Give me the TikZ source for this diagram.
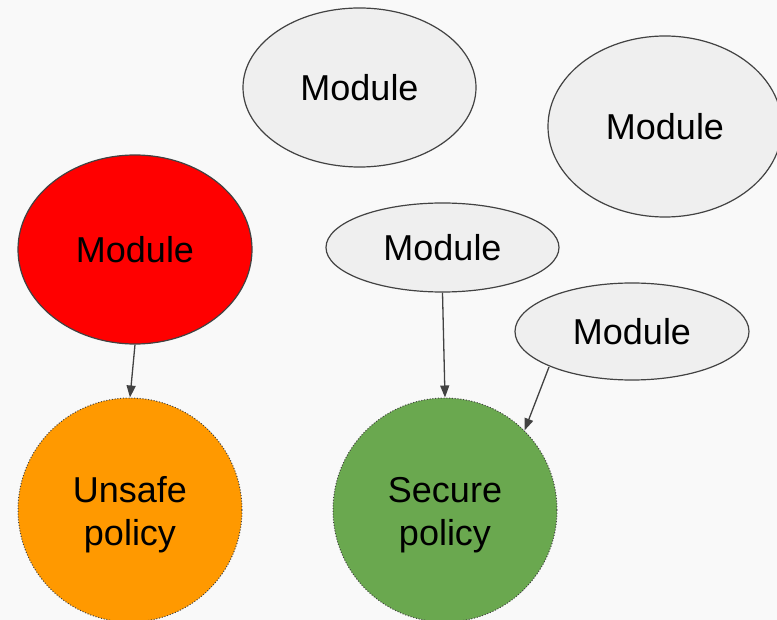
\documentclass[tikz,border=0pt]{standalone}
\usepackage{fontspec}
\setmainfont{Liberation Sans}
\usetikzlibrary{shapes.geometric,arrows.meta}
\definecolor{bg}{HTML}{F9F9F9}
\definecolor{modfill}{HTML}{EFEFEF}
\definecolor{edge}{HTML}{424242}
\definecolor{unsafe}{HTML}{FF9900}
\definecolor{secure}{HTML}{6AA84F}
\tikzset{
  modbox/.style={ellipse, draw=edge, line width=1.2pt, fill=modfill, inner sep=0pt,
    font=\fontsize{36}{41}\selectfont},
  polbox/.style={circle, draw=edge, line width=1pt, dash pattern=on 1pt off 1.8pt,
    inner sep=0pt, minimum size=224pt},
  poltext/.style={align=center, inner sep=0pt, font=\fontsize{36}{43}\selectfont},
  conn/.style={draw=edge, line width=1.3pt, -{Triangle[length=12pt,width=9pt]}}
}
\begin{document}
\begin{tikzpicture}[x=1pt,y=-1pt]
\useasboundingbox (0,0) rectangle (777,620);
\clip (0,0) rectangle (777,620);
\fill[bg] (0,0) rectangle (777,620);
\node[modbox, minimum width=233pt, minimum height=159pt] (m1) at (359.5,87.5) {Module};
\node[modbox, minimum width=234pt, minimum height=181pt] (m2) at (665,126.5) {Module};
\node[modbox, fill=red, minimum width=234pt, minimum height=189pt] (m3) at (135,249.5) {Module};
\node[modbox, minimum width=233pt, minimum height=89pt] (m4) at (442.5,247.5) {Module};
\node[modbox, minimum width=234pt, minimum height=97pt] (m5) at (632,331.5) {Module};
\node[polbox, fill=unsafe] (p1) at (130,510) {};
\node[polbox, fill=secure] (p2) at (445,510) {};
\node[poltext] (t1) at (130,515) {Unsafe\\policy};
\node[poltext] (t2) at (445,515) {Secure\\policy};
\coordinate (a3) at (549,367);
\draw[conn] (m3.south) -- (p1.north);
\draw[conn] (m4.south) -- (p2.north);
\draw[conn] (a3) -- (p2.45);
\end{tikzpicture}
\end{document}
